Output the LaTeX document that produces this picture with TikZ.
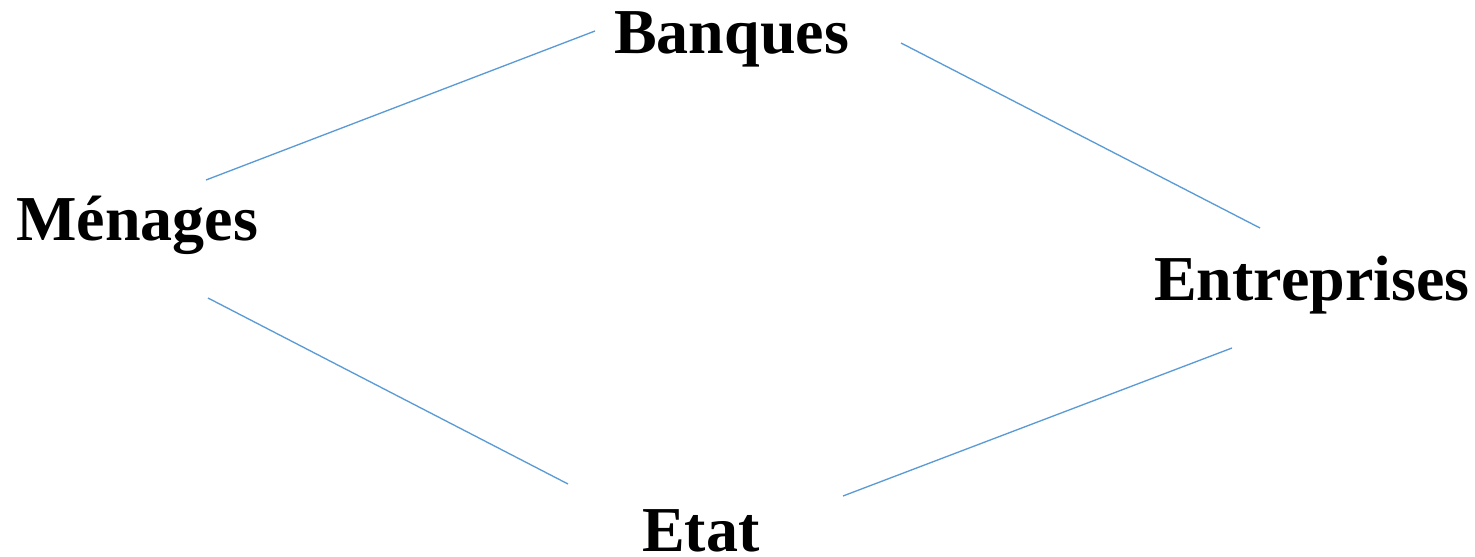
\documentclass[tikz,border=0pt]{standalone}
\usepackage{fontspec}
\setmainfont{Liberation Serif}
\usepackage{tikz}
\usetikzlibrary{positioning}
\definecolor{flowblue}{RGB}{91,155,213}
\tikzset{
  actor/.style={anchor=base west,inner sep=0pt,font=\fontsize{48}{50}\selectfont\bfseries},
  flow/.style={color=flowblue,line width=1pt}
}

\begin{document}
\begin{tikzpicture}[x=0.75pt,y=0.75pt,yscale=-1,xscale=1]
		\path[use as bounding box] (0,0) rectangle (1475,557);

		% Text Node
		\node[actor] (banques) at (614,53) {Banques};
		% Text Node
		\node[actor] (menages) at (16,240) {Ménages};
		% Text Node
		\node[actor] (entreprises) at (1154,300) {Entreprises};
		% Text Node
		\node[actor] (etat) at (642,551) {Etat};

		% line ends
		\coordinate (menB) at (206,180);
		\coordinate (banM) at (595,31);
		\coordinate (banE) at (901,43);
		\coordinate (entB) at (1260,228);
		\coordinate (menE) at (208,298);
		\coordinate (etaM) at (568,484);
		\coordinate (etaE) at (843,496);
		\coordinate (entE) at (1232,348);

		%Straight Lines
		\draw[flow] (menB) -- (banM);
		\draw[flow] (banE) -- (entB);
		\draw[flow] (menE) -- (etaM);
		\draw[flow] (etaE) -- (entE);
\end{tikzpicture}
\end{document}
